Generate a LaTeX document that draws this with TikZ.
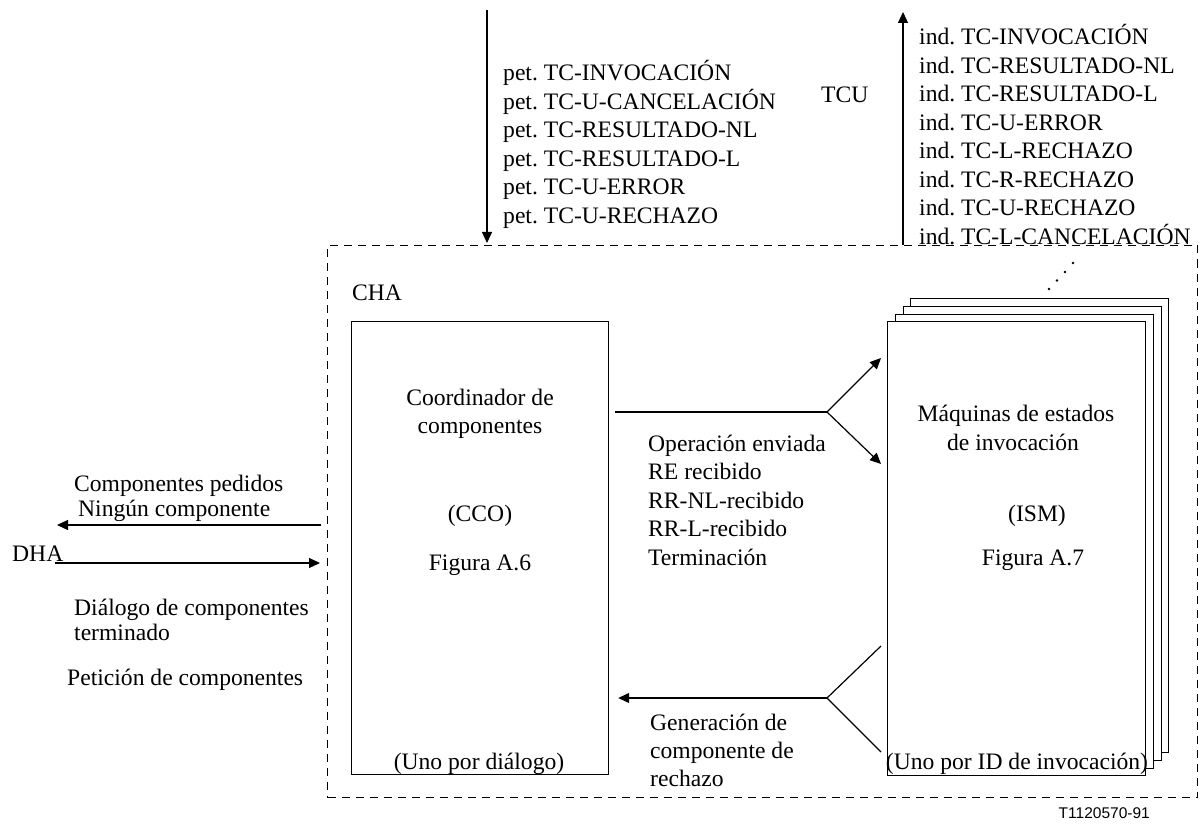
\documentclass[tikz,border=0pt]{standalone}
\usepackage{fontspec}
\setmainfont{Liberation Serif}
\newfontfamily\figsans{Liberation Sans}
\usetikzlibrary{arrows.meta}
\frenchspacing
\begin{document}
\begin{tikzpicture}[x=1pt,y=-1pt,
  txt/.style={font=\fontsize{23.6}{28.5}\selectfont, inner sep=0pt, anchor=base west},
  ctxt/.style={txt, anchor=base},
  box/.style={draw, line width=1.2pt, fill=white, anchor=north west, inner sep=0pt,
              minimum width=257.5pt, minimum height=454pt},
  wire/.style={line width=1.2pt},
  arr/.style={wire, -{Triangle[length=11pt,width=10pt]}},
]
\useasboundingbox (0,0) rectangle (1203,829);

% CHA boundary
\node[draw, dash pattern=on 8pt off 6pt, line width=1pt, anchor=north west, inner sep=0pt,
      minimum width=870pt, minimum height=552pt] (cha) at (327,245) {};
\node[txt] (chalbl) at (352,301) {CHA};

% component coordinator
\node[box, minimum width=257pt, minimum height=453pt] (cco) at (351,321) {};
\node[ctxt] (cco1) at (480,405) {Coordinador de};
\node[ctxt] (cco2) at (480,433) {componentes};
\node[ctxt] (cco3) at (480,521) {(CCO)};
\node[ctxt] (cco4) at (480,570) {Figura A.6};
\node[ctxt] (cco5) at (479,769) {(Uno por diálogo)};

% stack of invocation state machines
\foreach \bx/\by [count=\k] in {910/298, 903/306, 895/314}
  \node[box] (ismback\k) at (\bx,\by) {};
\node[box] (ism) at (887,321) {};
\node[ctxt] (ism1) at (1016,421) {Máquinas de estados};
\node[ctxt] (ism2) at (1013,450) {de invocación};
\node[ctxt] (ism3) at (1037,521) {(ISM)};
\node[ctxt] (ism4) at (1033,565) {Figura A.7};
\node[ctxt] (ism5) at (1017,769) {(Uno por ID de invocación)};
\foreach \px/\py in {1049/289, 1057/280.5, 1065/272, 1073/263}
  \fill (\px,\py) circle (1.4pt);

% TCU primitives
\coordinate (tcuin) at (487,10);
\coordinate (tcuout) at (903,12);
\draw[arr, shorten >=2pt] (tcuin) -- (tcuin |- cha.north);
\draw[arr] (tcuout |- cha.north) -- (tcuout);
\foreach \t [count=\i] in {pet. TC-INVOCACIÓN, pet. TC-U-CANCELACIÓN, pet. TC-RESULTADO-NL,
    pet. TC-RESULTADO-L, pet. TC-U-ERROR, pet. TC-U-RECHAZO}
  \node[txt] (pet\i) at (503,52.5+28.5*\i) {\t};
\foreach \t [count=\i] in {ind. TC-INVOCACIÓN, ind. TC-RESULTADO-NL, ind. TC-RESULTADO-L,
    ind. TC-U-ERROR, ind. TC-L-RECHAZO, ind. TC-R-RECHAZO, ind. TC-U-RECHAZO,
    ind. TC-L-CANCELACIÓN}
  \node[txt] (ind\i) at (919,16.5+28.5*\i) {\t};
\node[txt] (tcu) at (821,103) {TCU};

% CCO to ISM
\coordinate (opfork) at (827,412);
\coordinate (opup) at (881,358);
\coordinate (opdown) at (881,464);
\draw[wire, shorten <=6pt] (cco.east |- opfork) -- (opfork);
\draw[arr] (opfork) -- (opup);
\draw[arr] (opfork) -- (opdown);
\foreach \t [count=\i] in {Operación enviada, RE recibido, RR-NL-recibido, RR-L-recibido, Terminación}
  \node[txt] (op\i) at (648,422.5+28.5*\i) {\t};

% ISM to CCO
\coordinate (rjfork) at (827,698);
\coordinate (rjtop) at (881,646);
\coordinate (rjbot) at (881,752);
\draw[wire] (rjtop) -- (rjfork) -- (rjbot);
\draw[arr, shorten >=9pt] (rjfork) -- (cco.east |- rjfork);
\node[txt] (rj1) at (650,730) {Generación de};
\node[txt] (rj2) at (650,758) {componente de};
\node[txt] (rj3) at (650,786) {rechazo};

% DHA interface
\coordinate (dhaout) at (57,525);
\coordinate (dhain) at (55,563);
\draw[arr, shorten <=6pt] (cha.west |- dhaout) -- (dhaout);
\draw[arr, shorten >=7pt] (dhain) -- (cha.west |- dhain);
\node[txt] (dha) at (12,561) {DHA};
\node[txt] (dh1) at (74,491) {Componentes pedidos};
\node[txt] (dh2) at (78,516) {Ningún componente};
\node[txt] (dh3) at (74,615) {Diálogo de componentes};
\node[txt] (dh4) at (74,640) {terminado};
\node[txt] (dh5) at (67,685) {Petición de componentes};

\node[anchor=base east, inner sep=0pt, font=\figsans\fontsize{15.5}{18}\selectfont] (figid) at (1150,818) {T1120570-91};
\end{tikzpicture}
\end{document}
